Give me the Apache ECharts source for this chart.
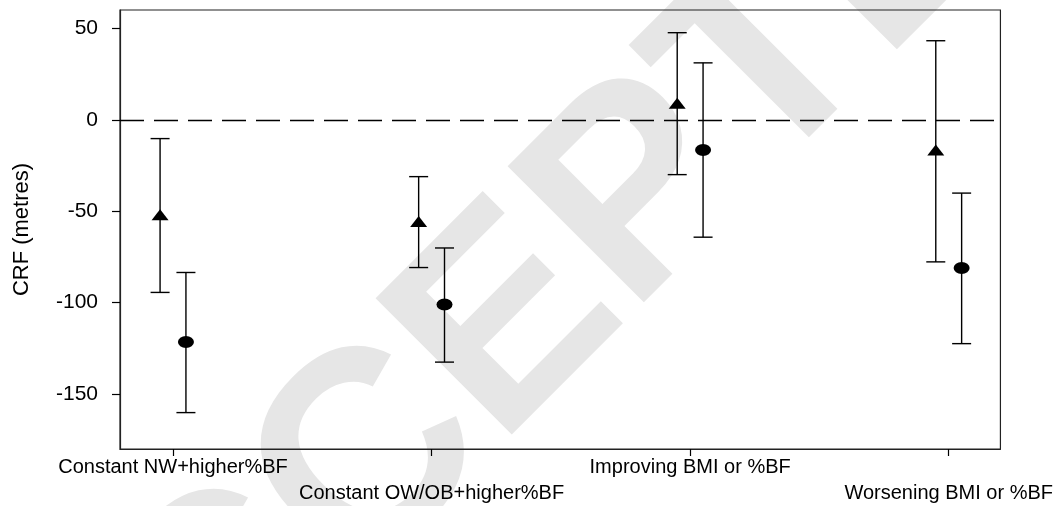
<!DOCTYPE html>
<html>
<head>
<meta charset="utf-8">
<script src="https://cdn.jsdelivr.net/npm/echarts@6/dist/echarts.min.js"></script>
<style>
html,body{margin:0;padding:0;background:#fff;}
#chart{width:1056px;height:506px;}
</style>
</head>
<body>
<div id="chart"></div>
<script>
// ---- data ----
const categories = ['Constant NW+higher%BF', 'Constant OW/OB+higher%BF', 'Improving BMI or %BF', 'Worsening BMI or %BF'];
const triMean  = [-52, -55.6, 9, -16.5];
const triLow   = [-94.4, -80.8, -30, -77.7];
const triHigh  = [-10.3, -31.1, 47.6, 43.2];
const circMean = [-121.5, -101, -16.6, -81];
const circLow  = [-160.1, -132.5, -64.2, -122.4];
const circHigh = [-83.5, -70.1, 31.1, -40.1];
const yTicks = [-150, -100, -50, 0, 50];
const catPos = [1, 2, 3, 4];
const yAxisTitle = 'CRF (metres)';
const watermark = 'ACCEPTED MANUSCRIPT';

// ---- layout / style ----
const FONT = '"Liberation Sans", Arial, sans-serif';
const dodge = 0.05;

const triPts = catPos.map((c, i) => [c - dodge, triMean[i]]);
const circPts = catPos.map((c, i) => [c + dodge, circMean[i]]);
const triBars = catPos.map((c, i) => [c - dodge, triLow[i], triHigh[i]]);
const circBars = catPos.map((c, i) => [c + dodge, circLow[i], circHigh[i]]);

function errRender(params, api) {
  const x = api.value(0), lo = api.value(1), hi = api.value(2);
  const a = api.coord([x, hi]);
  const b = api.coord([x, lo]);
  const hw = 9.5;
  const st = { stroke: '#000', lineWidth: 1.4 };
  return {
    type: 'group',
    children: [
      { type: 'line', shape: { x1: a[0], y1: a[1], x2: b[0], y2: b[1] }, style: st },
      { type: 'line', shape: { x1: a[0] - hw, y1: a[1], x2: a[0] + hw, y2: a[1] }, style: st },
      { type: 'line', shape: { x1: b[0] - hw, y1: b[1], x2: b[0] + hw, y2: b[1] }, style: st }
    ]
  };
}

const chart = echarts.init(document.getElementById('chart'), null, { renderer: 'canvas' });
chart.setOption({
  animation: false,
  backgroundColor: '#fff',
  graphic: {
    elements: [{
      type: 'text',
      x: 15, y: 822,
      rotation: Math.PI / 4,
      z: -10,
      silent: true,
      style: {
        text: watermark,
        font: 'bold 280px ' + FONT,
        fill: '#e6e6e6',
        textAlign: 'left',
        textVerticalAlign: 'middle'
      }
    }]
  },
  grid: {
    left: 120, right: 55, top: 10, bottom: 54,
    show: true, borderColor: '#222', borderWidth: 1.2, backgroundColor: 'transparent'
  },
  xAxis: {
    type: 'value',
    min: 0.795, max: 4.2,
    splitLine: { show: false },
    axisLine: { show: true, onZero: false, lineStyle: { color: '#222', width: 1.2 } },
    axisTick: { show: true, customValues: catPos, length: 7, lineStyle: { color: '#000', width: 1.2 } },
    axisLabel: {
      customValues: catPos,
      color: '#000', fontSize: 20, fontFamily: FONT, lineHeight: 26, margin: 5,
      formatter: function (v) {
        const i = Math.round(v) - 1;
        return i % 2 === 1 ? '\n' + categories[i] : categories[i];
      }
    }
  },
  yAxis: {
    type: 'value',
    min: -180, max: 60,
    name: yAxisTitle,
    nameLocation: 'middle',
    nameGap: 87,
    nameTextStyle: { color: '#000', fontSize: 22, fontFamily: FONT },
    splitLine: { show: false },
    axisLine: { show: true, onZero: false, lineStyle: { color: '#222', width: 1.2 } },
    axisTick: { show: true, customValues: yTicks, length: 8, lineStyle: { color: '#000', width: 1.2 } },
    axisLabel: { customValues: yTicks, color: '#000', fontSize: 21, fontFamily: FONT, margin: 22 }
  },
  series: [
    {
      type: 'custom', name: 'tri-err', renderItem: errRender, data: triBars,
      encode: { x: 0, y: [1, 2] }, z: 3, silent: true
    },
    {
      type: 'custom', name: 'circ-err', renderItem: errRender, data: circBars,
      encode: { x: 0, y: [1, 2] }, z: 3, silent: true
    },
    {
      type: 'scatter', name: 'triangle', data: triPts, symbol: 'triangle', symbolSize: [17, 11],
      itemStyle: { color: '#000', opacity: 1 }, z: 4, silent: true,
      markLine: {
        silent: true, symbol: 'none', label: { show: false },
        lineStyle: { color: '#000', width: 1.3, type: [24, 10] },
        data: [{ yAxis: 0 }]
      }
    },
    {
      type: 'scatter', name: 'circle', data: circPts, symbol: 'circle', symbolSize: [16, 12],
      itemStyle: { color: '#000', opacity: 1 }, z: 4, silent: true
    }
  ]
});
</script>
</body>
</html>
